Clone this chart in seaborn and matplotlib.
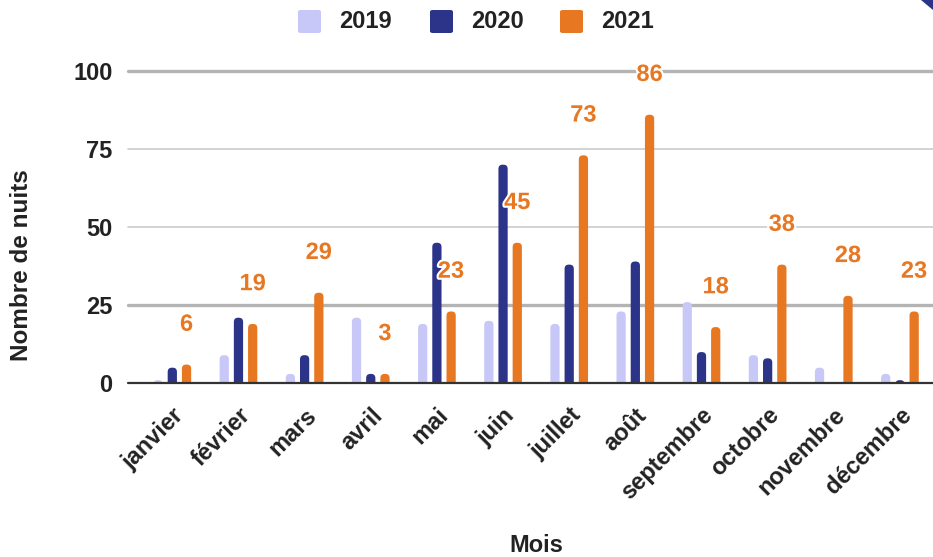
import matplotlib
matplotlib.use("Agg")
import matplotlib.pyplot as plt
import matplotlib.transforms as mtransforms
import matplotlib.patheffects as pe
from matplotlib.patches import FancyBboxPatch, Polygon
import seaborn as sns
import pandas as pd

months = ["janvier", "février", "mars", "avril", "mai", "juin", "juillet",
          "août", "septembre", "octobre", "novembre", "décembre"]
years = ["2019", "2020", "2021"]
v2019 = [1, 9, 3, 21, 19, 20, 19, 23, 26, 9, 5, 3]
v2020 = [5, 21, 9, 3, 45, 70, 38, 39, 10, 8, 0, 1]
v2021 = [6, 19, 29, 3, 23, 45, 73, 86, 18, 38, 28, 23]
colors = ["#c8c8f8", "#2b3489", "#e87722"]

df = pd.DataFrame({
    "Mois": months * 3,
    "Année": [y for y in years for _ in months],
    "Nuits": v2019 + v2020 + v2021,
})

sns.set_theme(style="white")
plt.rcParams["font.family"] = ["Liberation Sans", "DejaVu Sans"]
plt.rcParams["font.weight"] = "bold"

FS = 17
fig = plt.figure(figsize=(9.33, 5.57), dpi=100)
ax = fig.add_axes([128 / 933, 1 - 383.3 / 557, 1 - 128 / 933, (383.3 - 71) / 557])

sns.barplot(data=df, x="Mois", y="Nuits", hue="Année", palette=colors,
            order=months, hue_order=years, width=0.645, gap=0.35,
            saturation=1, legend=False, ax=ax, zorder=3)

ax.set_xlim(-0.67, 11.5)
ax.set_ylim(0, 100)

# rounded tops on bars
fig.canvas.draw()
px_x = ax.transData.transform((1, 0))[0] - ax.transData.transform((0, 0))[0]
px_y = ax.transData.transform((0, 1))[1] - ax.transData.transform((0, 0))[1]
aspect = px_x / px_y
for p in list(ax.patches):
    x, y = p.get_x(), p.get_y()
    w, h = p.get_width(), p.get_height()
    if h <= 0:
        p.remove()
        continue
    r = w / 2 * 0.9
    ry = r * aspect
    fb = FancyBboxPatch((x, y - ry), w, h + ry,
                        boxstyle=f"round,pad=0,rounding_size={r}",
                        mutation_aspect=aspect,
                        facecolor=p.get_facecolor(), edgecolor="none",
                        zorder=3, clip_on=True)
    p.remove()
    ax.add_patch(fb)

# grid lines
for yv in [25, 50, 75, 100]:
    if yv in (25, 100):
        ax.axhline(yv, color="#b4b4b4", lw=2.4, zorder=1, clip_on=False)
    else:
        ax.axhline(yv, color="#cccccc", lw=1.2, zorder=1, clip_on=False)
ax.axhline(0, color="#333333", lw=1.6, zorder=4, clip_on=False)

for s in ax.spines.values():
    s.set_visible(False)

ax.set_yticks([0, 25, 50, 75, 100])
ax.set_yticklabels(["0", "25", "50", "75", "100"], fontsize=FS, fontweight="bold",
                   color="#222222")
ax.tick_params(axis="y", length=0, pad=11)
ax.tick_params(axis="x", length=0, pad=20.5)
ax.set_xticks(range(len(months)))
ax.set_xticklabels(months, rotation=45, ha="right", va="center",
                   rotation_mode="anchor", fontsize=FS, fontweight="bold",
                   color="#222222")
offset = mtransforms.ScaledTranslation(8 / 100, 0, fig.dpi_scale_trans)
for lab in ax.get_xticklabels():
    lab.set_transform(lab.get_transform() + offset)

ax.set_xlabel("")
ax.set_ylabel("")
fig.text(536 / 933, 1 - 545 / 557, "Mois", ha="center", va="center",
         fontsize=FS, fontweight="bold", color="#222222")
fig.text(22 / 933, 1 - 265 / 557, "Nombre de nuits", ha="center", va="center",
         rotation=90, fontsize=17.5, fontweight="bold", color="#222222")

# data labels for 2021
for i, v in enumerate(v2021):
    ax.annotate(str(v), xy=(i + 0.215, v), xytext=(0, 29), textcoords="offset points",
                ha="center", va="center", fontsize=FS, fontweight="bold",
                color="#e87722", zorder=6, annotation_clip=False,
                path_effects=[pe.withStroke(linewidth=3, foreground="white")])

# legend
leg_items = [(298, "2019", colors[0]), (430, "2020", colors[1]), (560, "2021", colors[2])]
for xpx, lab, c in leg_items:
    sq = FancyBboxPatch((xpx / 933, 1 - 33 / 557), 23 / 933, 23 / 557,
                        boxstyle="round,pad=0,rounding_size=0.003",
                        transform=fig.transFigure, facecolor=c, edgecolor="none")
    fig.patches.append(sq)
    fig.text((xpx + 41) / 933, 1 - 21 / 557, lab, ha="left", va="center",
             fontsize=FS, fontweight="bold", color="#222222")

# corner decoration
tri = Polygon([(921 / 933, 1.0), (933 / 933, 1.0), (933 / 933, 1 - 10 / 557)],
              closed=True, transform=fig.transFigure, facecolor="#2b3489",
              edgecolor="none")
fig.patches.append(tri)

fig.savefig("out.png", dpi=100)
